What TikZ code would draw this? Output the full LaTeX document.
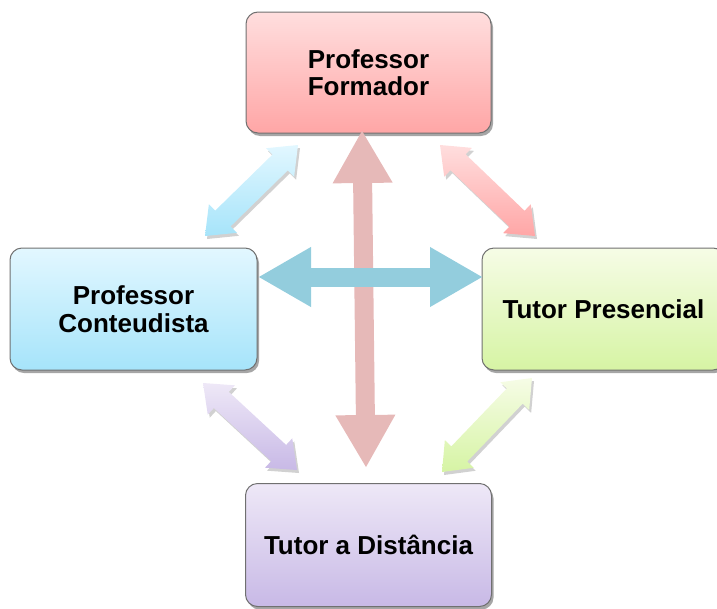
\documentclass[tikz,border=0pt]{standalone}
\usepackage{fontspec}
\setmainfont{Liberation Sans}
\usetikzlibrary{calc,arrows.meta,shadows}
\definecolor{boxline}{RGB}{112,112,112}
\definecolor{pinkT}{RGB}{255,222,222}
\definecolor{pinkB}{RGB}{255,166,166}
\definecolor{blueT}{RGB}{226,247,255}
\definecolor{blueB}{RGB}{166,228,250}
\definecolor{greenT}{RGB}{246,252,230}
\definecolor{greenB}{RGB}{214,244,164}
\definecolor{lavT}{RGB}{238,232,247}
\definecolor{lavB}{RGB}{200,185,230}
\definecolor{vArrow}{RGB}{230,185,184}
\definecolor{hArrow}{RGB}{147,205,221}
\newcommand\blockarrow[4]{%
  \coordinate (#4s) at ($(#1)!25pt!(#2)$);
  \coordinate (#4e) at ($(#2)!25pt!(#1)$);
  \path[#3] (#1) -- ($(#4s)!20pt!90:(#2)$) -- ($(#4s)!11pt!90:(#2)$)
    -- ($(#4e)!11pt!90:(#2)$) -- ($(#4e)!20pt!90:(#2)$) -- (#2)
    -- ($(#4e)!20pt!-90:(#2)$) -- ($(#4e)!11pt!-90:(#2)$)
    -- ($(#4s)!11pt!-90:(#2)$) -- ($(#4s)!20pt!-90:(#2)$) -- cycle;
}
\begin{document}
\begin{tikzpicture}[x=1pt,y=-1pt,
  box/.style={rounded corners=12pt, draw=boxline, line width=1pt,
    align=center, inner sep=0pt,
    font=\bfseries\fontsize{26}{27.5}\selectfont,
    drop shadow={shadow xshift=2pt,shadow yshift=-3pt,opacity=.35,fill=black}},
  diag/.style={drop shadow={shadow xshift=2pt,shadow yshift=-3pt,opacity=.18,fill=black}},
  bigarrow/.style={line width=19pt,
    {Triangle[width=56pt,length=53pt]}-{Triangle[width=56pt,length=53pt]}}
]
\useasboundingbox (0,0) rectangle (717,608);
\clip (0,0) rectangle (717,608);

\node[box, top color=pinkT, bottom color=pinkB, minimum width=245pt, minimum height=121pt]
  (pf) at (368.5,72.5) {Professor\\Formador};
\node[box, top color=blueT, bottom color=blueB, minimum width=247pt, minimum height=122pt]
  (pc) at (133.5,309) {Professor\\Conteudista};
\node[box, top color=greenT, bottom color=greenB, minimum width=243pt, minimum height=122pt]
  (tp) at (603.5,309) {Tutor Presencial};
\node[box, top color=lavT, bottom color=lavB, minimum width=246pt, minimum height=123pt]
  (td) at (368.5,545) {Tutor a Distância};

% diagonal arrows
\coordinate (b1) at (205,236);
\coordinate (b2) at (298,145);
\coordinate (p1) at (440,145);
\coordinate (p2) at (535,236);
\coordinate (l1) at (203,383);
\coordinate (l2) at (297,470);
\coordinate (g1) at (532,378);
\coordinate (g2) at (442,472);
\blockarrow{b1}{b2}{diag, top color=blueT, bottom color=blueB}{ba}
\blockarrow{p1}{p2}{diag, top color=pinkT, bottom color=pinkB}{pa}
\blockarrow{l1}{l2}{diag, top color=lavT, bottom color=lavB}{la}
\blockarrow{g1}{g2}{diag, top color=greenT, bottom color=greenB}{ga}

% big arrows
\coordinate (vt) at (362,130);
\coordinate (vb) at (366,468);
\coordinate (hl) at (258,277);
\coordinate (hr) at (483,277);
\draw[bigarrow, vArrow] (vt) -- (vb);
\draw[bigarrow, hArrow] (hl) -- (hr);
\end{tikzpicture}
\end{document}
